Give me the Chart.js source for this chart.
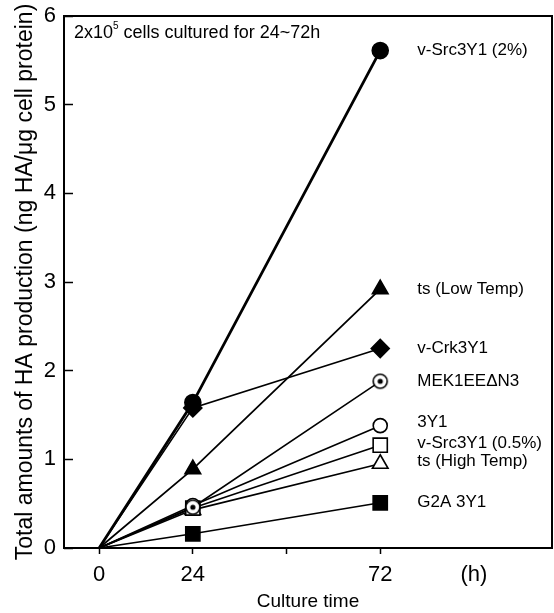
<!DOCTYPE html>
<html>
<head>
<meta charset="utf-8">
<script src="https://cdn.jsdelivr.net/npm/chart.js@4"></script>
<style>
html, body { margin: 0; padding: 0; background: #fff; }
#wrap { width: 554px; height: 613px; }
</style>
</head>
<body>
<div id="wrap"><canvas id="c"></canvas></div>
<script>
// culture time (h) and HA amounts
var hours = [0, 24, 72];
var seriesNames = ['v-Src3Y1 (2%)', 'ts (Low Temp)', 'v-Crk3Y1', 'MEK1EE\u0394N3', '3Y1', 'v-Src3Y1 (0.5%)', 'ts (High Temp)', 'G2A 3Y1'];
var srcHigh = [0, 1.64, 5.61];
var tsLow = [0, 0.89, 2.92];
var crk = [0, 1.58, 2.25];
var mek = [0, 0.46, 1.88];
var parent3Y1 = [0, 0.48, 1.38];
var srcLow = [0, 0.45, 1.16];
var tsHigh = [0, 0.43, 0.95];
var g2a = [0, 0.16, 0.51];
var xTicks = [0, 24, 48, 72, 96];
var xTickLabels = ['0', '24', '', '72', '(h)'];

var FONT = '"Liberation Sans", Arial, sans-serif';
Chart.defaults.font.family = FONT;
Chart.defaults.color = '#000';

function pts(vals) {
  return vals.map(function (v, i) { return { x: hours[i], y: v }; });
}

// open circle with a dot in it
function dotCircle() {
  var c = document.createElement('canvas');
  c.width = 18; c.height = 18;
  var g = c.getContext('2d');
  g.beginPath(); g.arc(9, 9, 7, 0, Math.PI * 2);
  g.fillStyle = '#fff'; g.fill();
  g.lineWidth = 1.6; g.strokeStyle = '#000'; g.stroke();
  g.beginPath(); g.arc(9, 9, 2.6, 0, Math.PI * 2);
  g.fillStyle = '#000'; g.fill();
  return c;
}

function series(vals, style, r, fill, lw) {
  return {
    data: pts(vals),
    borderColor: '#000',
    borderWidth: lw,
    pointStyle: style,
    pointRadius: [0, r, r],
    pointBackgroundColor: fill,
    pointBorderColor: '#000',
    pointBorderWidth: 1.6,
    tension: 0
  };
}

var labelNudge = [0, 0, 0, 0, -3, -2, -2, 0];

var endLabels = {
  id: 'endLabels',
  afterDatasetsDraw: function (chart) {
    var ctx = chart.ctx, a = chart.chartArea;
    ctx.save();
    ctx.fillStyle = '#000';
    ctx.textBaseline = 'middle';
    ctx.font = '17px ' + FONT;
    chart.data.datasets.forEach(function (ds, i) {
      var meta = chart.getDatasetMeta(i);
      var p = meta.data[meta.data.length - 1];
      ctx.fillText(seriesNames[i], p.x + 37, p.y + labelNudge[i]);
    });
    // note in the upper left corner
    var x = a.left + 10, y = a.top + 17;
    ctx.font = '18px ' + FONT;
    ctx.fillText('2x10', x, y);
    x += ctx.measureText('2x10').width;
    ctx.font = '10px ' + FONT;
    ctx.fillText('5', x, y - 7);
    x += ctx.measureText('5').width;
    ctx.font = '18px ' + FONT;
    ctx.fillText(' cells cultured for 24~72h', x, y);
    // frame
    ctx.lineWidth = 2;
    ctx.strokeStyle = '#000';
    ctx.strokeRect(a.left, a.top, a.right - a.left, a.bottom - a.top);
    ctx.restore();
  }
};

new Chart(document.getElementById('c'), {
  type: 'line',
  data: {
    datasets: [
      series(srcHigh, 'circle', 8, '#000', 2.8),
      series(tsLow, 'triangle', 9, '#000', 1.8),
      series(crk, 'rectRot', 9, '#000', 1.6),
      series(mek, dotCircle(), 8, '#fff', 1.6),
      series(parent3Y1, 'circle', 7, '#fff', 1.6),
      series(srcLow, 'rect', 10, '#fff', 1.6),
      series(tsHigh, 'triangle', 9, '#fff', 1.6),
      series(g2a, 'rect', 10, '#000', 1.6)
    ]
  },
  options: {
    responsive: true,
    maintainAspectRatio: false,
    animation: false,
    layout: { autoPadding: false, padding: { top: 16, right: 2, left: 0, bottom: 0 } },
    plugins: { legend: { display: false }, tooltip: { enabled: false } },
    scales: {
      x: {
        type: 'linear',
        min: -9,
        max: 116,
        afterBuildTicks: function (s) { s.ticks = xTicks.map(function (v) { return { value: v }; }); },
        afterFit: function (s) { s.height = 65; s.paddingLeft = 0; s.paddingRight = 0; },
        border: { display: false },
        grid: {
          drawOnChartArea: false,
          tickLength: 6,
          tickWidth: 1.5,
          color: '#000',
          tickColor: function (c) { return c.tick && c.tick.value === 96 ? 'rgba(0,0,0,0)' : '#000'; }
        },
        ticks: {
          autoSkip: false,
          maxRotation: 0,
          padding: 8,
          font: { size: 22 },
          callback: function (v) { return xTickLabels[xTicks.indexOf(v)]; }
        },
        title: { display: true, text: 'Culture time', font: { size: 19 }, padding: { top: 0, bottom: 0 } }
      },
      y: {
        min: 0,
        max: 6,
        afterFit: function (s) { s.width = 64; s.paddingTop = 0; s.paddingBottom = 0; },
        border: { display: false },
        grid: { drawOnChartArea: false, tickLength: -9, tickWidth: 1.5, color: '#000' },
        ticks: { stepSize: 1, padding: 17, font: { size: 22 } },
        title: {
          display: true,
          text: 'Total amounts of HA production (ng HA/\u03bcg cell protein)',
          font: { size: 23 },
          padding: { top: 12, bottom: 0 }
        }
      }
    }
  },
  plugins: [endLabels]
});
</script>
</body>
</html>
